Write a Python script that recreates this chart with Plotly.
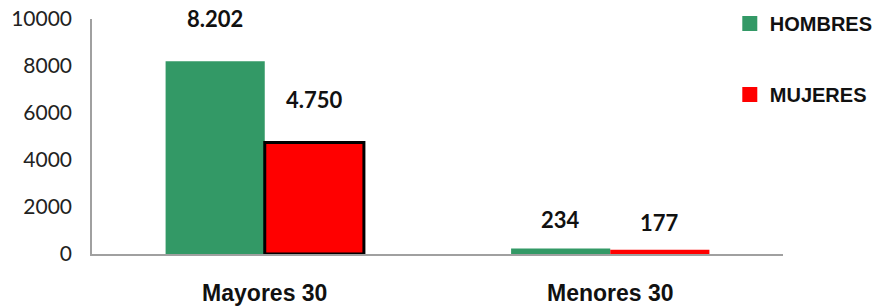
import plotly.graph_objects as go

categories = ["Mayores 30", "Menores 30"]
hombres = [8202, 234]
mujeres = [4750, 177]
series_names = ["HOMBRES", "MUJERES"]
y_ticks = [0, 2000, 4000, 6000, 8000, 10000]

GREEN = "#339966"
RED = "#FF0000"

def fmt(v):
    return f"{v:,}".replace(",", ".")

fig = go.Figure()
fig.add_trace(go.Bar(x=categories, y=hombres, name=series_names[0], marker=dict(color=GREEN, line=dict(width=0)),
                     showlegend=False))
fig.add_trace(go.Bar(x=categories, y=mujeres, name=series_names[1],
                     marker=dict(color=RED, line=dict(color="black", width=[3, 0])),
                     showlegend=False))
# legend entries (plain squares)
for nm, col in zip(series_names, [GREEN, RED]):
    fig.add_trace(go.Scatter(x=[categories[0]], y=[None], mode="markers", name=f"<b>{nm}</b>", legendgroup=nm,
                             marker=dict(symbol="square", size=15, color=col, line=dict(width=0)), showlegend=True))

# value labels
label_gap = [[27.5, 13.5], [27, 12]]
xshift = [-49.5, 49.5]
for s, vals in enumerate([hombres, mujeres]):
    for i, v in enumerate(vals):
        fig.add_annotation(x=categories[i], y=v, text=f"<b>{fmt(v)}</b>", showarrow=False,
                           xshift=xshift[s], yshift=label_gap[s][i], yanchor="bottom",
                           font=dict(family="Lato", size=22, color="#111"))

fig.update_layout(
    width=873, height=306,
    margin=dict(l=92, r=90, t=19, b=52, autoexpand=False),
    paper_bgcolor="white", plot_bgcolor="white",
    barmode="group", bargap=0.426, bargroupgap=0,
    showlegend=True,
    legend=dict(x=0.923, y=1.064, xanchor="left", yanchor="top", tracegroupgap=42,
                font=dict(family="Liberation Sans", size=20, color="#111"),
                bgcolor="rgba(0,0,0,0)"),
)
fig.update_yaxes(range=[0, 10000], tickvals=y_ticks, ticktext=[str(t) for t in y_ticks],
                 showgrid=False, zeroline=False, automargin=False,
                 showline=True, linecolor="#A0A0A0", linewidth=1.5,
                 tickfont=dict(family="Lato", size=21, color="#222"), ticklabelstandoff=14)
fig.update_xaxes(showgrid=False, showline=True, linecolor="#A0A0A0", linewidth=1.5, automargin=False,
                 tickfont=dict(family="Liberation Sans", size=23, color="#111"),
                 ticklabelstandoff=18, tickprefix="<b>", ticksuffix="</b>")

fig.write_html("out.html", config={"displayModeBar": False},
               post_script="document.body.style.margin='0';document.body.style.overflow='hidden';")
